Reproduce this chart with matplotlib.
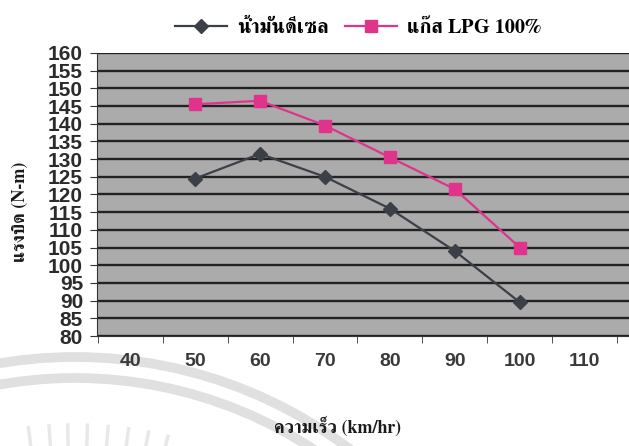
import numpy as np
import matplotlib
matplotlib.use("Agg")
import matplotlib.pyplot as plt
from matplotlib.lines import Line2D
from matplotlib.patches import Circle
from matplotlib.transforms import IdentityTransform

# speed (km/hr) vs torque (N-m)
speed = [50, 60, 70, 80, 90, 100]
diesel = [124.5, 131.5, 125, 116, 104, 89.5]
lpg = [145.5, 146.5, 139.5, 130.5, 121.5, 105]
x_ticks = [40, 50, 60, 70, 80, 90, 100, 110]
y_ticks = list(range(80, 165, 5))

label_diesel = "น้ำมันดีเซล"
label_lpg = "แก๊ส LPG 100%"
x_title = "ความเร็ว (km/hr)"
y_title = "แรงบิด (N-m)"

THAI = ["FreeSerif", "Taviraj", "DejaVu Sans"]
DIESEL_C = "#3b4048"
LPG_C = "#e0338c"

W, H = 629, 446
fig = plt.figure(figsize=(W / 100, H / 100), dpi=100)

# faint seal watermark behind the chart (pixel coords, origin bottom-left)
cx, cy = 75, H - 813
for r in (456, 435):
    fig.add_artist(Circle((cx, cy), r, transform=IdentityTransform(), fill=False,
                          ec="#e0e0e0", lw=7, zorder=0))
for xb in [30, 50, 68, 87, 107, 127, 147, 167]:
    ang = np.arctan2(xb - cx, 813 - 440)
    r0, r1 = 360, 388
    fig.add_artist(Line2D([cx + r0 * np.sin(ang), cx + r1 * np.sin(ang)],
                          [cy + r0 * np.cos(ang), cy + r1 * np.cos(ang)],
                          transform=IdentityTransform(), color="#e8e8e8", lw=2.5,
                          zorder=0))

ax = fig.add_axes([97 / W, 1 - 336 / H, 1 - 97 / W, (336 - 53) / H])
ax.set_facecolor("#ababab")

ax.plot(speed, diesel, color=DIESEL_C, lw=1.6, marker="D", ms=7,
        mfc=DIESEL_C, mec=DIESEL_C, zorder=5)
ax.plot(speed, lpg, color=LPG_C, lw=1.6, marker="s", ms=9,
        mfc=LPG_C, mec=LPG_C, zorder=6)

ax.set_xlim(34.9, 116.8)
ax.set_ylim(80, 160)
ax.set_yticks(y_ticks)
ax.set_xticks(x_ticks)
ax.set_xticks([t - 5 for t in x_ticks] + [115], minor=True)
ax.grid(axis="y", color="#222222", lw=1.7)
ax.set_axisbelow(True)
for s in ["top", "right"]:
    ax.spines[s].set_visible(False)
ax.spines["left"].set_color("#333333")
ax.spines["bottom"].set_color("#333333")
ax.tick_params(axis="x", which="major", length=0, pad=12)
ax.tick_params(axis="x", which="minor", length=5, color="#333333", direction="out")
ax.tick_params(axis="y", length=5, color="#333333", pad=5)
for lab in ax.get_yticklabels():
    lab.set_fontfamily("Liberation Sans")
    lab.set_fontweight("bold")
    lab.set_fontsize(15)
    lab.set_color("#2b2b2b")
for lab in ax.get_xticklabels():
    lab.set_fontfamily("Liberation Sans")
    lab.set_fontweight("bold")
    lab.set_fontsize(14)
    lab.set_color("#3a3a3a")

fig.text(338 / W, 1 - 427 / H, x_title, ha="center", va="center",
         fontsize=13, fontweight="bold", family=THAI, color="#1a1a1a")
fig.text(20 / W, 1 - 212 / H, y_title, ha="center", va="center", rotation=90,
         fontsize=13, fontweight="bold", family=THAI, color="#1a1a1a")

handles = [
    Line2D([], [], color=DIESEL_C, lw=1.6, marker="D", ms=7),
    Line2D([], [], color=LPG_C, lw=1.6, marker="s", ms=9),
]
fig.legend(handles, [label_diesel, label_lpg], loc="center", ncol=2,
           bbox_to_anchor=(358 / W, 1 - 28 / H), frameon=False,
           prop={"family": THAI, "weight": "bold", "size": 14.5},
           handlelength=2.6, columnspacing=0.8, handletextpad=0.5)

fig.savefig("out.png", dpi=100)
